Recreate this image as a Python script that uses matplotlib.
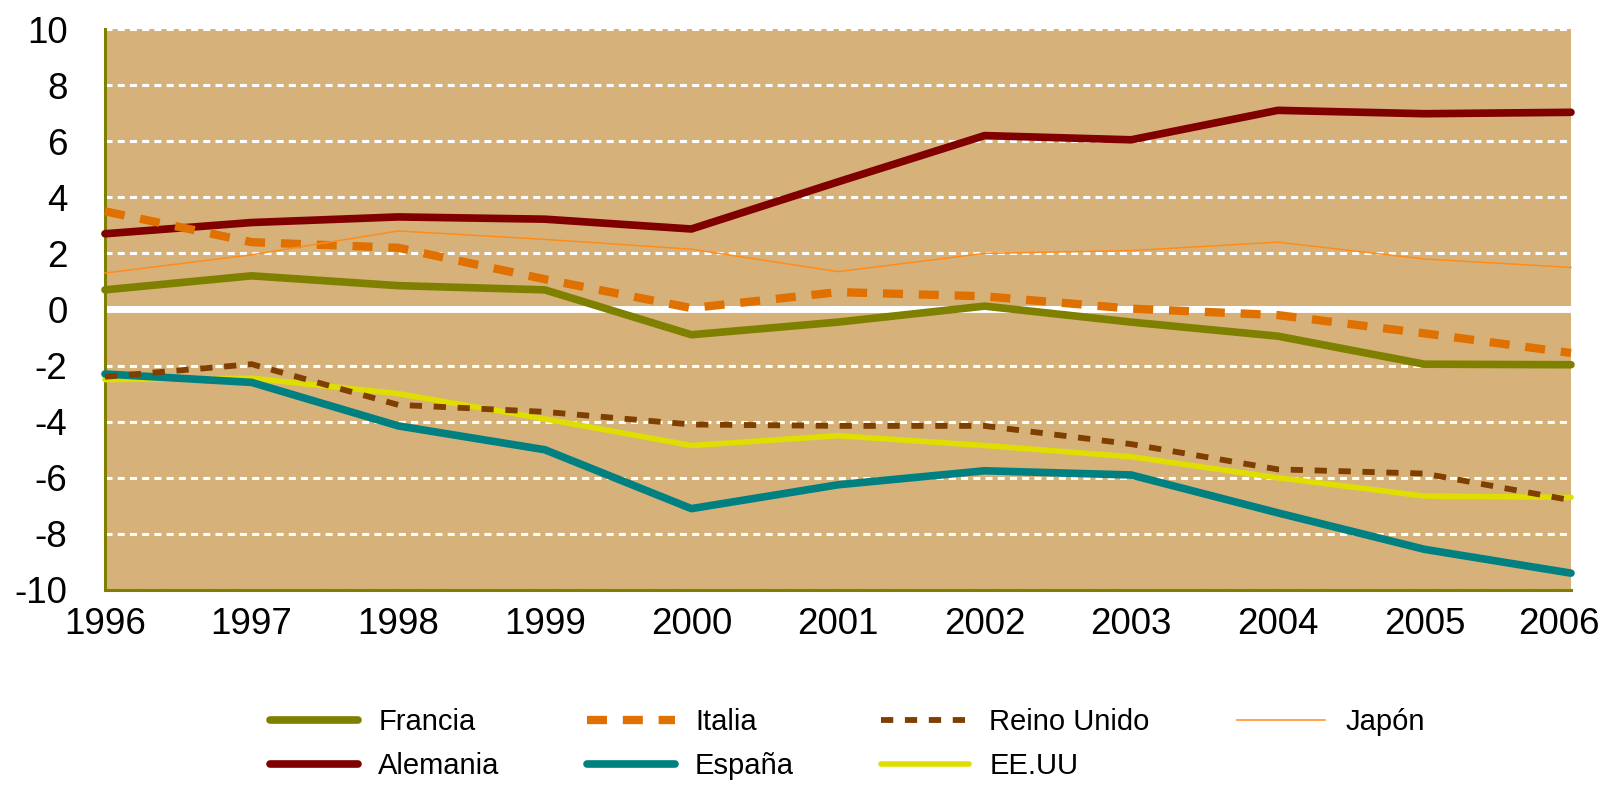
import matplotlib
matplotlib.use("Agg")
import matplotlib.pyplot as plt
from matplotlib import font_manager
from matplotlib.transforms import ScaledTranslation

plt.rcParams['font.family'] = ['Liberation Sans', 'DejaVu Sans']
plt.rcParams['axes.unicode_minus'] = False

# === Datos ===
years = [1996, 1997, 1998, 1999, 2000, 2001, 2002, 2003, 2004, 2005, 2006]
francia = [0.7, 1.2, 0.85, 0.7, -0.9, -0.45, 0.12, -0.45, -0.95, -1.95, -1.97]
alemania = [2.7, 3.1, 3.3, 3.22, 2.87, 4.55, 6.2, 6.05, 7.1, 6.98, 7.03]
italia = [3.5, 2.4, 2.2, 1.08, 0.05, 0.62, 0.47, 0.03, -0.2, -0.85, -1.55]
espana = [-2.3, -2.6, -4.15, -5.0, -7.1, -6.25, -5.75, -5.9, -7.25, -8.55, -9.4]
reino_unido = [-2.4, -1.95, -3.4, -3.65, -4.1, -4.15, -4.15, -4.8, -5.7, -5.85, -6.8]
eeuu = [-2.5, -2.45, -3.0, -3.9, -4.85, -4.5, -4.85, -5.25, -6.0, -6.65, -6.7]
japon = [1.3, 1.95, 2.8, 2.5, 2.15, 1.35, 2.0, 2.1, 2.4, 1.8, 1.5]

y_ticks = [-10, -8, -6, -4, -2, 0, 2, 4, 6, 8, 10]

BG = '#D6B27A'
OLIVE = '#808000'

# fuente estrecha para la leyenda, si existe
names = {f.name for f in font_manager.fontManager.ttflist}
legend_font = 'Liberation Sans Narrow' if 'Liberation Sans Narrow' in names else 'Liberation Sans'

fig = plt.figure(figsize=(16.05, 7.86), dpi=100)
ax = fig.add_axes([0.0654, 0.2494, 0.9134, 0.7137])
ax.set_facecolor(BG)

# lineas de cuadricula
for v in y_ticks:
    if v == 0:
        ax.axhline(v, color='white', lw=5, zorder=1)
    else:
        ax.axhline(v, color='white', lw=2.2, ls=(0, (2.3, 1.7)), zorder=1)

h_fr, = ax.plot(years, francia, color=OLIVE, lw=5.5, label='Francia', zorder=3,
                solid_capstyle='round', solid_joinstyle='round', clip_on=False)
h_al, = ax.plot(years, alemania, color='#800000', lw=5.5, label='Alemania', zorder=4,
                solid_capstyle='round', solid_joinstyle='round', clip_on=False)
h_it, = ax.plot(years, italia, color='#E07000', lw=6, ls=(0, (2.4, 1.9)), label='Italia', zorder=5,
                clip_on=False)
h_ee, = ax.plot(years, eeuu, color='#E0DE00', lw=4, label='EE.UU', zorder=3,
                solid_capstyle='round', solid_joinstyle='round', clip_on=False)
h_es, = ax.plot(years, espana, color='#008080', lw=5.5, label='España', zorder=4,
                solid_capstyle='round', solid_joinstyle='round', clip_on=False)
h_ru, = ax.plot(years, reino_unido, color='#7F3F00', lw=4.2, ls=(0, (2.1, 2.0)), label='Reino Unido',
                zorder=5, clip_on=False)
h_ja, = ax.plot(years, japon, color='#FF8C1A', lw=1.1, label='Japón', zorder=6, clip_on=False)

ax.set_xlim(1996, 2006)
ax.set_ylim(-10, 10)
ax.set_xticks(years)
ax.set_yticks(y_ticks)
ax.tick_params(axis='both', length=0, labelsize=26.5)
ax.tick_params(axis='y', pad=27)
ax.tick_params(axis='x', pad=12)

# la ultima etiqueta se corre un poco a la izquierda para que quepa
last = ax.get_xticklabels()[-1]
last.set_transform(last.get_transform() + ScaledTranslation(-12 / 100, 0, fig.dpi_scale_trans))

for side in ['top', 'right']:
    ax.spines[side].set_visible(False)
ax.spines['left'].set_color(OLIVE)
ax.spines['left'].set_linewidth(2.2)
ax.spines['bottom'].set_color(OLIVE)
ax.spines['bottom'].set_linewidth(2.2)

handles = [h_fr, h_al, h_it, h_es, h_ru, h_ee, h_ja]
fig.legend(handles=handles, labels=[h.get_label() for h in handles],
           ncol=4, loc='center', bbox_to_anchor=(0.528, 0.053), frameon=False,
           prop={'family': legend_font, 'size': 21},
           handlelength=3.0, handletextpad=0.7, columnspacing=3.0,
           labelspacing=0.55, borderpad=0)

fig.savefig('out.png', dpi=100)
